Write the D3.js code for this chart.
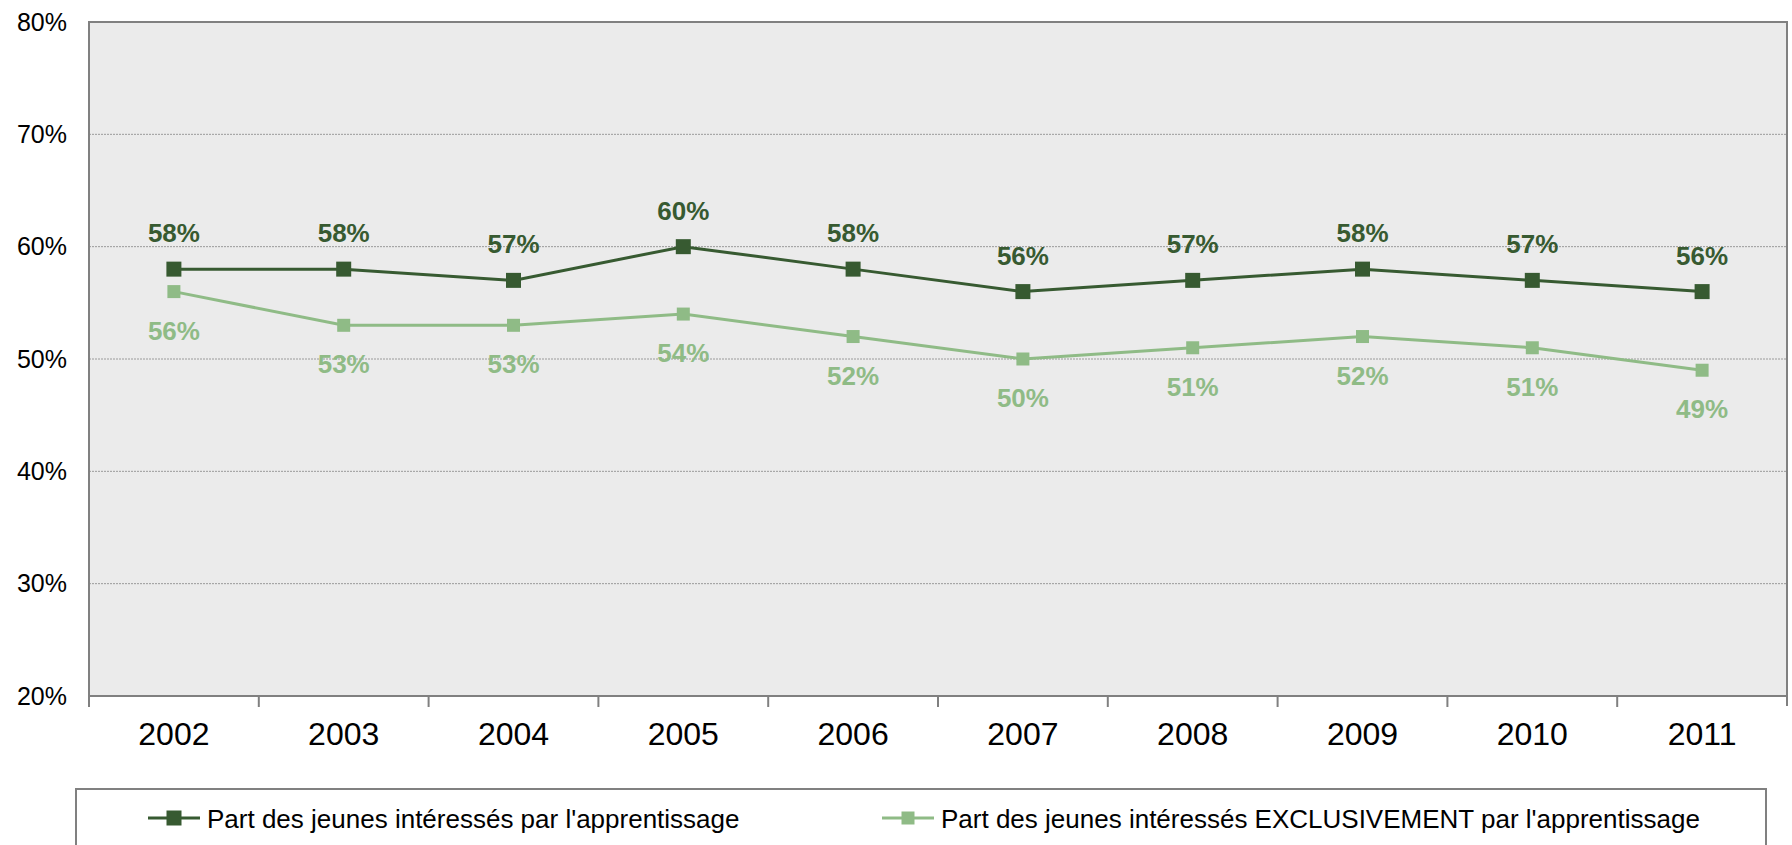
<!DOCTYPE html>
<html>
<head>
<meta charset="utf-8">
<script src="https://cdn.jsdelivr.net/npm/d3@7"></script>
<style>
  body { margin: 0; background: #fff; }
  text { font-family: "Liberation Sans", Arial, sans-serif; }
</style>
</head>
<body>
<div id="plot"></div>
<script>
var years = ["2002", "2003", "2004", "2005", "2006", "2007", "2008", "2009", "2010", "2011"];
var interesses = [58, 58, 57, 60, 58, 56, 57, 58, 57, 56];
var exclusivement = [56, 53, 53, 54, 52, 50, 51, 52, 51, 49];
var yTicks = [20, 30, 40, 50, 60, 70, 80];
var seriesNames = [
  "Part des jeunes intéressés par l'apprentissage",
  "Part des jeunes intéressés EXCLUSIVEMENT par l'apprentissage"
];

var svgWidth = 1792;
var svgHeight = 845;

var margin = { top: 22, right: 5, bottom: 149, left: 89 };
var width = svgWidth - margin.left - margin.right;
var height = svgHeight - margin.top - margin.bottom;

var darkGreen = "#375a31";
var lightGreen = "#8fbb86";

var svg = d3.select("#plot")
  .append("svg")
  .attr("width", svgWidth)
  .attr("height", svgHeight);

var chartGroup = svg.append("g")
  .attr("transform", `translate(${margin.left}, ${margin.top})`);

var xScale = d3.scaleBand()
  .domain(years)
  .range([0, width])
  .padding(0);

var yScale = d3.scaleLinear()
  .domain([20, 80])
  .range([height, 0]);

function cx(d, i) { return xScale(years[i]) + xScale.bandwidth() / 2; }

// plot background
chartGroup.append("rect")
  .attr("x", 0)
  .attr("y", 0)
  .attr("width", width)
  .attr("height", height)
  .attr("fill", "#ebebeb");

// gridlines
chartGroup.append("g")
  .selectAll("line")
  .data(yTicks.filter(t => t > 20 && t < 80))
  .enter()
  .append("line")
  .attr("x1", 0)
  .attr("x2", width)
  .attr("y1", d => yScale(d))
  .attr("y2", d => yScale(d))
  .attr("stroke", "#9a9a9a")
  .attr("stroke-width", 1)
  .attr("stroke-dasharray", "2,1");

// frame (top, right, left)
chartGroup.append("path")
  .attr("d", `M0,${height}V0H${width}V${height + 10}`)
  .attr("fill", "none")
  .attr("stroke", "#808080")
  .attr("stroke-width", 2);

// y axis labels
var leftAxis = d3.axisLeft(yScale)
  .tickValues(yTicks)
  .tickSize(0)
  .tickPadding(22)
  .tickFormat(d => d + "%");

var yAxisG = chartGroup.append("g").call(leftAxis);
yAxisG.select(".domain").remove();
yAxisG.selectAll("text")
  .attr("font-size", "25px")
  .attr("fill", "#000")
  .style("font-family", "'Liberation Sans', Arial, sans-serif");

// x axis with ticks at band boundaries
var xAxisG = chartGroup.append("g")
  .attr("transform", `translate(0, ${height})`);

xAxisG.append("line")
  .attr("x1", 0)
  .attr("x2", width)
  .attr("stroke", "#808080")
  .attr("stroke-width", 2);

xAxisG.selectAll(".tick-mark")
  .data(years)
  .enter()
  .append("line")
  .attr("class", "tick-mark")
  .attr("x1", d => xScale(d))
  .attr("x2", d => xScale(d))
  .attr("y1", 0)
  .attr("y2", 11)
  .attr("stroke", "#808080")
  .attr("stroke-width", 2);

xAxisG.selectAll(".year-label")
  .data(years)
  .enter()
  .append("text")
  .attr("class", "year-label")
  .attr("x", d => xScale(d) + xScale.bandwidth() / 2)
  .attr("y", 49)
  .attr("text-anchor", "middle")
  .attr("font-size", "32px")
  .attr("fill", "#000")
  .text(d => d);

function makeLine() {
  return d3.line()
    .x(cx)
    .y(d => yScale(d));
}

function addSeries(values, color, markerSize, labelDy) {
  chartGroup.append("path")
    .datum(values)
    .attr("d", makeLine())
    .attr("fill", "none")
    .attr("stroke", color)
    .attr("stroke-width", 3);

  chartGroup.append("g")
    .selectAll("rect")
    .data(values)
    .enter()
    .append("rect")
    .attr("x", (d, i) => cx(d, i) - markerSize / 2)
    .attr("y", d => yScale(d) - markerSize / 2)
    .attr("width", markerSize)
    .attr("height", markerSize)
    .attr("fill", color);

  chartGroup.append("g")
    .selectAll("text")
    .data(values)
    .enter()
    .append("text")
    .attr("x", cx)
    .attr("y", d => yScale(d) + labelDy)
    .attr("text-anchor", "middle")
    .attr("font-size", "26px")
    .attr("font-weight", "bold")
    .attr("fill", color)
    .text(d => d + "%");
}

addSeries(exclusivement, lightGreen, 13, 48);
addSeries(interesses, darkGreen, 15, -27);

// legend
var legend = svg.append("g");

legend.append("rect")
  .attr("x", 76)
  .attr("y", 789)
  .attr("width", 1690)
  .attr("height", 80)
  .attr("fill", "#fff")
  .attr("stroke", "#808080")
  .attr("stroke-width", 2);

var legendItems = [
  { name: seriesNames[0], color: darkGreen, size: 15, x: 148 },
  { name: seriesNames[1], color: lightGreen, size: 13, x: 882 }
];

legendItems.forEach(function(item) {
  legend.append("line")
    .attr("x1", item.x)
    .attr("x2", item.x + 52)
    .attr("y1", 818)
    .attr("y2", 818)
    .attr("stroke", item.color)
    .attr("stroke-width", 3);
  legend.append("rect")
    .attr("x", item.x + 26 - item.size / 2)
    .attr("y", 818 - item.size / 2)
    .attr("width", item.size)
    .attr("height", item.size)
    .attr("fill", item.color);
  legend.append("text")
    .attr("x", item.x + 59)
    .attr("y", 828)
    .attr("font-size", "26px")
    .attr("fill", "#000")
    .text(item.name);
});
</script>
</body>
</html>
